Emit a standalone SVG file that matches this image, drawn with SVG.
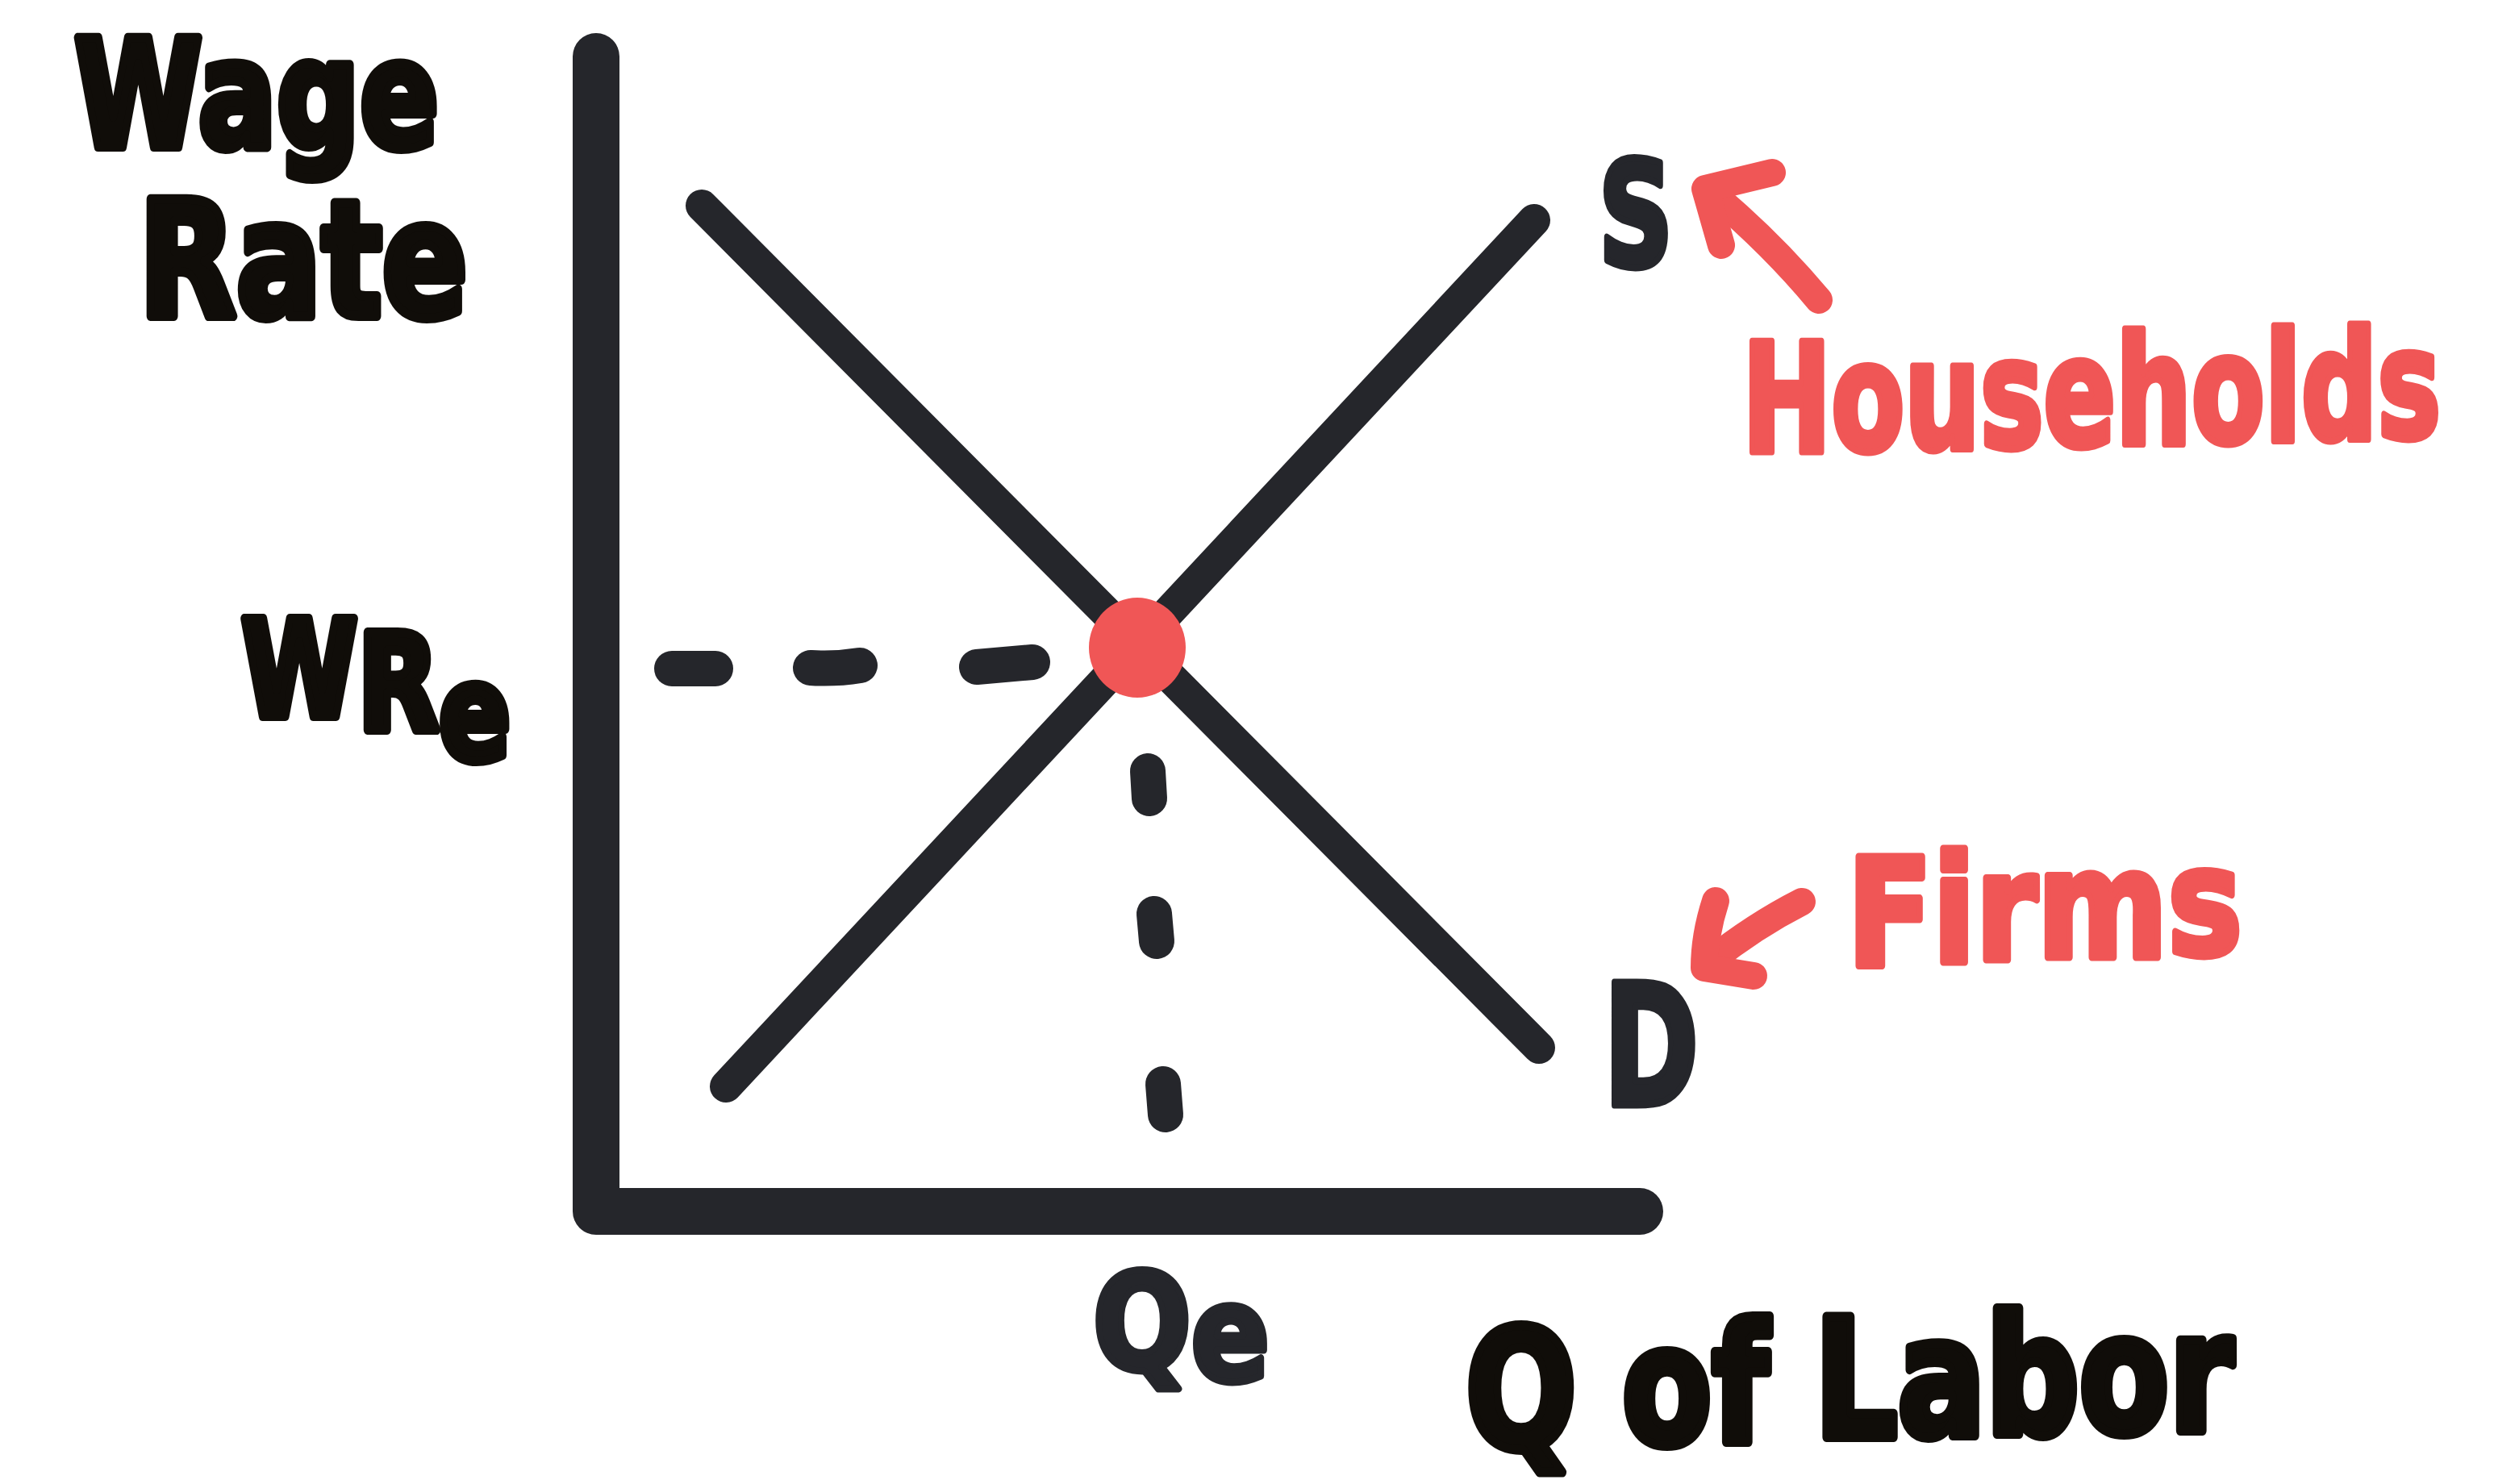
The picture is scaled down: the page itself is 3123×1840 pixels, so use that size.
<svg xmlns="http://www.w3.org/2000/svg" width="3123" height="1840" viewBox="0 0 3123 1840">
<style>
.ln{fill:none;stroke:#25262b;stroke-linecap:round;stroke-linejoin:round}
.ax{stroke-width:58}
.cv{stroke-width:40}
.ds{stroke-width:44}
.ar{fill:none;stroke:#f05656;stroke-width:34;stroke-linecap:round;stroke-linejoin:round}
.t{font-family:"DejaVu Sans","Liberation Sans",sans-serif;font-weight:bold;stroke-linejoin:round;stroke-linecap:round}
.blk{fill:#100d09;stroke:#100d09;stroke-width:12}
.gry{fill:#25262b;stroke:#25262b;stroke-width:9}
.red{fill:#f05656;stroke:#f05656;stroke-width:9}
</style>
<rect width="3123" height="1840" fill="#ffffff"/>
<g id="axes">
<path class="ln ax" d="M739 70 V1502 H2033"/>
</g>
<g id="connectors">
<path id="demand" class="ln cv" d="M870 255 L1908 1299"/>
<path id="supply" class="ln cv" d="M900 1347 L1902 273"/>
<g id="wage-dashes">
<path class="ln ds" d="M833 829 L887 829"/>
<path class="ln ds" d="M1005 828 Q1035 830 1066 825"/>
<path class="ln ds" d="M1211 827 L1280 821"/>
</g>
<g id="qty-dashes">
<path class="ln ds" d="M1423 956 L1425 990"/>
<path class="ln ds" d="M1431 1133 L1434 1167"/>
<path class="ln ds" d="M1442 1344 L1445 1382"/>
</g>
<g id="arrow-households">
<path class="ar" d="M2255 372 Q2195 300 2118 236"/>
<path class="ar" d="M2197 214 L2114 234 L2134 304"/>
</g>
<g id="arrow-firms">
<path class="ar" d="M2234 1118 Q2175 1148 2120 1192"/>
<path class="ar" d="M2127 1117 Q2113 1160 2113 1200 L2174 1210"/>
</g>
</g>
<g id="equilibrium">
<ellipse cx="1410" cy="803" rx="60" ry="62" fill="#f05656"/>
</g>
<g id="labels">
<text id="wage" class="t blk" x="92" y="182" font-size="186" textLength="452" lengthAdjust="spacingAndGlyphs">Wage</text>
<text id="rate" class="t blk" x="172" y="392" font-size="200" textLength="408" lengthAdjust="spacingAndGlyphs">Rate</text>
<text id="wre" class="t blk" x="299" y="888 905 942" font-size="165" textLength="334" lengthAdjust="spacingAndGlyphs">WRe</text>
<text id="s" class="t gry" x="1982" y="329" font-size="180" textLength="92" lengthAdjust="spacingAndGlyphs">S</text>
<text id="d" class="t gry" x="1988" y="1370" font-size="208" textLength="118" lengthAdjust="spacingAndGlyphs">D</text>
<text id="qe" class="t gry" x="1355" y="1698 1712" font-size="165" textLength="219" lengthAdjust="spacingAndGlyphs">Qe</text>
<text id="qlabor" class="t blk" x="1817" y="1795 1793 1790 1788 1785 1782 1780 1778 1776 1774" font-size="205" textLength="952" lengthAdjust="spacingAndGlyphs">Q of Labor</text>
<text id="households" class="t red" x="2160" y="560 558 556 554 552 550 548 546 544 542" font-size="188" textLength="866" lengthAdjust="spacingAndGlyphs">Households</text>
<text id="firms" class="t red" x="2290" y="1197 1193 1190 1187 1183" font-size="185" textLength="490" lengthAdjust="spacingAndGlyphs">Firms</text>
</g>
</svg>
